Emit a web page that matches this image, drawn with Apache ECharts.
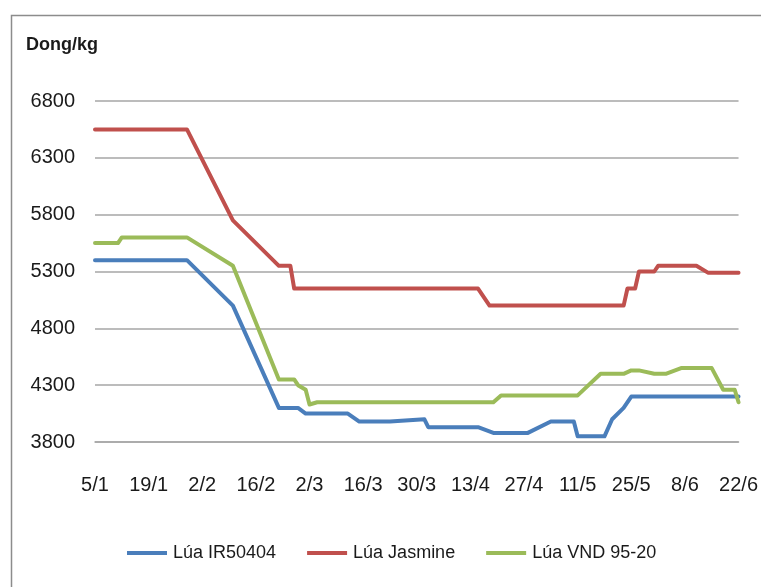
<!DOCTYPE html>
<html>
<head>
<meta charset="utf-8">
<script src="https://cdn.jsdelivr.net/npm/echarts@6/dist/echarts.min.js"></script>
<style>
  html, body { margin: 0; padding: 0; background: #fff; }
  #chart { width: 761px; height: 587px; }
</style>
</head>
<body>
<div id="chart"></div>
<script>
// tick labels, every 14 days from 5/1 to 22/6
const tickLabels = ['5/1', '19/1', '2/2', '16/2', '2/3', '16/3', '30/3', '13/4', '27/4', '11/5', '25/5', '8/6', '22/6']

// Lúa IR50404
const irDates = ['5/1', '29/1', '10/2', '22/2', '27/2', '1/3', '12/3', '15/3', '23/3', '1/4', '2/4', '15/4', '19/4', '28/4', '4/5', '10/5', '11/5', '18/5', '20/5', '23/5', '25/5', '22/6']
const irValues = [5400, 5400, 5000, 4100, 4100, 4050, 4050, 3980, 3980, 4000, 3930, 3930, 3880, 3880, 3980, 3980, 3850, 3850, 4000, 4100, 4200, 4200]

// Lúa Jasmine
const jasDates = ['5/1', '29/1', '10/2', '22/2', '25/2', '26/2', '15/4', '18/4', '23/5', '24/5', '26/5', '27/5', '31/5', '1/6', '11/6', '14/6', '22/6']
const jasValues = [6550, 6550, 5750, 5350, 5350, 5150, 5150, 5000, 5000, 5150, 5150, 5300, 5300, 5350, 5350, 5290, 5290]

// Lúa VND 95-20
const vndDates = ['5/1', '11/1', '12/1', '29/1', '10/2', '22/2', '26/2', '27/2', '1/3', '2/3', '4/3', '19/4', '21/4', '11/5', '17/5', '23/5', '25/5', '27/5', '31/5', '3/6', '7/6', '15/6', '18/6', '21/6', '22/6']
const vndValues = [5550, 5550, 5600, 5600, 5350, 4350, 4350, 4300, 4260, 4130, 4150, 4150, 4210, 4210, 4400, 4400, 4430, 4430, 4400, 4400, 4450, 4450, 4260, 4260, 4150]

// days counted from 5/1
function dayOf(s) {
  const [d, m] = s.split('/').map(Number)
  return Math.round((Date.UTC(2011, m - 1, d) - Date.UTC(2011, 0, 5)) / 86400000)
}
function pairs(dates, values) {
  return dates.map((s, i) => [dayOf(s), values[i]])
}

const textColor = '#1a1a1a'
const font = 'Liberation Sans'

const mycharts = echarts.init(document.getElementById('chart'))
mycharts.setOption({
  animation: false,
  graphic: [
    {
      type: 'rect',
      left: 9,
      top: 13,
      shape: { width: 800, height: 700 },
      style: { fill: 'none', stroke: '#8c8c8c', lineWidth: 1.5 },
      silent: true
    }
  ],
  title: {
    text: 'Dong/kg',
    left: 21,
    top: 31,
    textStyle: {
      color: textColor,
      fontFamily: font,
      fontWeight: 'bold',
      fontSize: 18
    }
  },
  grid: {
    left: 95,
    right: 18,
    top: 101,
    bottom: 145
  },
  xAxis: {
    type: 'value',
    min: 0,
    max: 168,
    interval: 14,
    splitLine: { show: false },
    axisTick: { show: false },
    axisLine: {
      show: true,
      lineStyle: { color: '#a6a6a6', width: 1.5 }
    },
    axisLabel: {
      margin: 33,
      color: textColor,
      fontFamily: font,
      fontSize: 20,
      formatter: v => tickLabels[Math.round(v / 14)]
    }
  },
  yAxis: {
    type: 'value',
    min: 3800,
    max: 6800,
    interval: 500,
    axisLine: { show: false },
    axisTick: { show: false },
    splitLine: {
      lineStyle: { color: '#a6a6a6', width: 1.5 }
    },
    axisLabel: {
      margin: 20,
      color: textColor,
      fontFamily: font,
      fontSize: 20,
      formatter: v => String(v)
    }
  },
  legend: {
    left: 122,
    top: 539,
    icon: 'rect',
    itemWidth: 40,
    itemHeight: 4,
    itemGap: 31,
    textStyle: {
      color: textColor,
      fontFamily: font,
      fontSize: 18,
      padding: [0, 0, 0, 1]
    },
    data: ['Lúa IR50404', 'Lúa Jasmine', 'Lúa VND 95-20']
  },
  series: [
    {
      name: 'Lúa IR50404',
      type: 'line',
      data: pairs(irDates, irValues),
      symbol: 'none',
      color: '#4a7ebb',
      lineStyle: { width: 4, cap: 'round', join: 'round' }
    },
    {
      name: 'Lúa Jasmine',
      type: 'line',
      data: pairs(jasDates, jasValues),
      symbol: 'none',
      color: '#c0504d',
      lineStyle: { width: 4, cap: 'round', join: 'round' }
    },
    {
      name: 'Lúa VND 95-20',
      type: 'line',
      data: pairs(vndDates, vndValues),
      symbol: 'none',
      color: '#9bbb59',
      lineStyle: { width: 4, cap: 'round', join: 'round' }
    }
  ]
})
</script>
</body>
</html>
